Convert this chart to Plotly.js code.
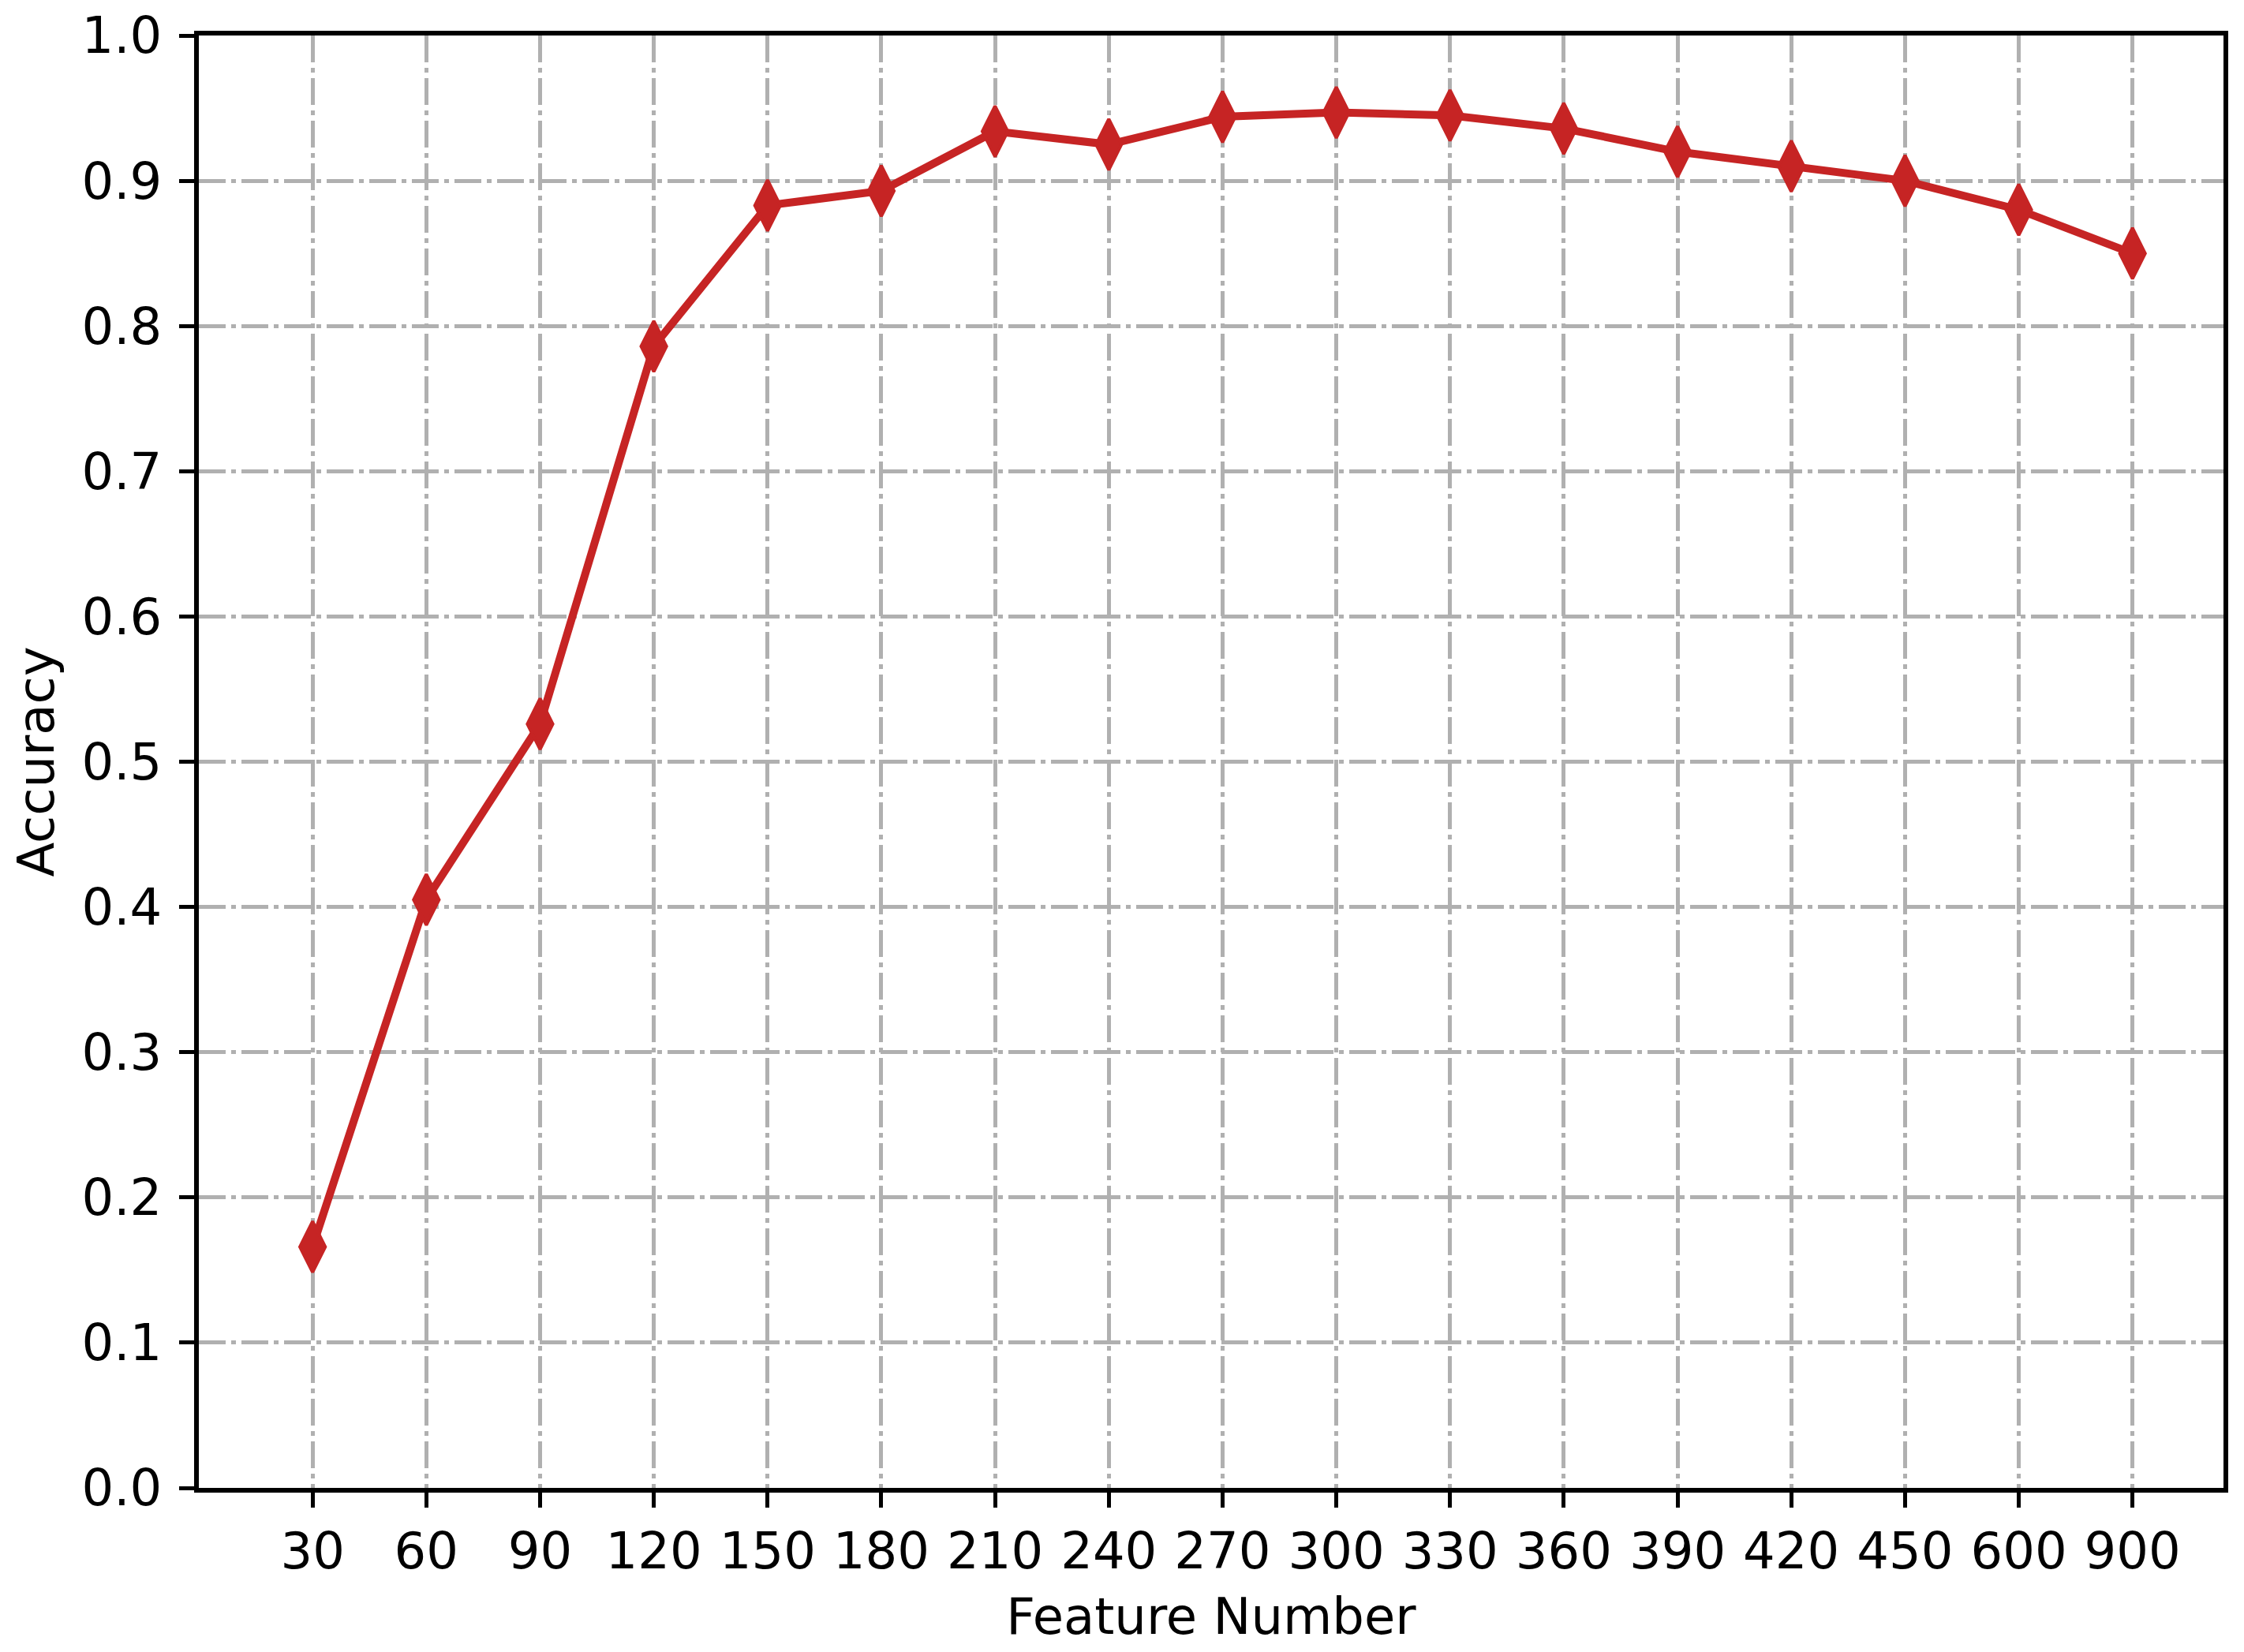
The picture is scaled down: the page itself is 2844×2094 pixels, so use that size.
<!DOCTYPE html>
<html>
<head>
<meta charset="utf-8">
<script src="https://cdn.plot.ly/plotly-3.0.1.min.js"></script>
<style>html,body{margin:0;padding:0;background:#fff;}#chart{width:2844px;height:2094px;}</style>
</head>
<body>
<div id="chart"></div>
<script>
const featureNumbers = ["30","60","90","120","150","180","210","240","270","300","330","360","390","420","450","600","900"];
const accuracy = [0.166, 0.405, 0.526, 0.786, 0.883, 0.893, 0.934, 0.925, 0.944, 0.947, 0.945, 0.936, 0.920, 0.910, 0.900, 0.880, 0.850];
const yTicks = [0.0,0.1,0.2,0.3,0.4,0.5,0.6,0.7,0.8,0.9,1.0];

const red = '#c62424';
const font = {family: 'DejaVu Sans, sans-serif', size: 64, color: '#000'};

const trace = {
  x: featureNumbers,
  y: accuracy,
  type: 'scatter',
  mode: 'lines+markers',
  line: {color: red, width: 10},
  marker: {symbol: 'diamond-tall', size: 46, color: red, line: {color: red, width: 4}},
  hoverinfo: 'x+y'
};

const layout = {
  width: 2844, height: 2094,
  margin: {l: 252, r: 26, t: 45, b: 208},
  paper_bgcolor: '#fff', plot_bgcolor: '#fff',
  font: font,
  showlegend: false,
  xaxis: {
    type: 'category',
    categoryorder: 'array', categoryarray: featureNumbers,
    range: [-1.0, 16.8],
    showline: true, linecolor: '#000', linewidth: 6, mirror: true,
    ticks: 'outside', ticklen: 19, tickwidth: 5, tickcolor: '#000',
    showgrid: true, gridcolor: '#b0b0b0', gridwidth: 5, griddash: '34px,7px,6px,7px',
    zeroline: false,
    tickfont: font,
    ticklabelstandoff: 0,
    title: {text: 'Feature Number', font: font, standoff: 26}
  },
  yaxis: {
    range: [0, 1],
    tickvals: yTicks,
    ticktext: yTicks.map(v => v.toFixed(1)),
    showline: true, linecolor: '#000', linewidth: 6, mirror: true,
    ticks: 'outside', ticklen: 19, tickwidth: 5, tickcolor: '#000',
    showgrid: true, gridcolor: '#b0b0b0', gridwidth: 5, griddash: '34px,7px,6px,7px',
    zeroline: false,
    tickfont: font,
    ticklabelstandoff: 9,
    title: {text: 'Accuracy', font: font, standoff: 16}
  }
};

Plotly.newPlot('chart', [trace], layout, {displayModeBar: false, staticPlot: true});
</script>
</body>
</html>
